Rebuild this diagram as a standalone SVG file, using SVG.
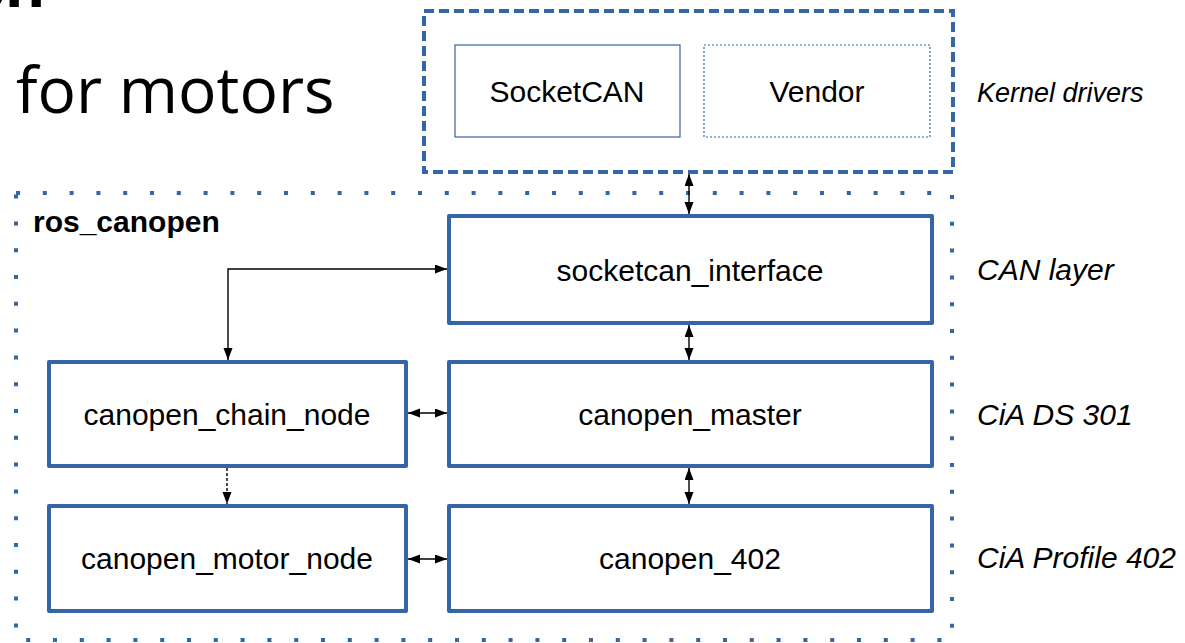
<svg xmlns="http://www.w3.org/2000/svg" width="1185" height="643" viewBox="0 0 1185 643">
  <defs>
    <style>
      .box { fill: #ffffff; stroke: #3465a4; stroke-width: 4; stroke-linejoin: round; }
      .thin { fill: #ffffff; stroke: #3465a4; stroke-width: 1.2; }
      .thin-dot { fill: #ffffff; stroke: #3465a4; stroke-width: 1.2; stroke-dasharray: 2 2; }
      .lbl { font-family: "Liberation Sans", Arial, sans-serif; font-size: 30px; fill: #000; text-anchor: middle; }
      .layer { font-family: "Liberation Sans", Arial, sans-serif; font-size: 30px; font-style: italic; fill: #000; }
      .conn { fill: none; stroke: #000; stroke-width: 1.4; }
    </style>
    <marker id="arrow" markerUnits="userSpaceOnUse" markerWidth="13" markerHeight="10" refX="12" refY="4.5" orient="auto-start-reverse">
      <path d="M0,0 L12,4.5 L0,9 z" fill="#000"/>
    </marker>
  </defs>

  <rect width="1185" height="643" fill="#ffffff"/>

  <!-- slide title fragments -->
  <text x="-26" y="7" font-family="'Open Sans', 'Noto Sans', sans-serif" font-size="62" font-weight="bold" fill="#000">sh</text>
  <text x="16" y="113" font-family="'Open Sans', 'Noto Sans', sans-serif" font-size="64" fill="#000">for motors</text>

  <!-- container frames -->
  <g id="ros_canopen">
    <rect x="16" y="193" width="936" height="447" fill="none" stroke="#3465a4" stroke-width="4" stroke-dasharray="4 22.8"/>
    <text x="33" y="232" font-family="'Liberation Sans', Arial, sans-serif" font-size="30" font-weight="bold" fill="#000">ros_canopen</text>
  </g>

  <g id="kernel_drivers">
    <rect x="424" y="11" width="529" height="161" fill="none" stroke="#3465a4" stroke-width="4" stroke-dasharray="10 5"/>
    <text class="layer" x="977" y="102" style="font-size:27px">Kernel drivers</text>
  </g>

  <g id="socketcan">
    <rect class="thin" x="455" y="45" width="225" height="92"/>
    <text class="lbl" x="567" y="102">SocketCAN</text>
  </g>

  <g id="vendor">
    <rect class="thin-dot" x="704" y="45" width="226" height="92"/>
    <text class="lbl" x="817" y="102">Vendor</text>
  </g>

  <g id="socketcan_interface">
    <rect class="box" x="449" y="216" width="483" height="107"/>
    <text class="lbl" x="690" y="281">socketcan_interface</text>
  </g>

  <g id="canopen_chain_node">
    <rect class="box" x="49" y="362" width="357" height="104"/>
    <text class="lbl" x="227" y="425">canopen_chain_node</text>
  </g>

  <g id="canopen_master">
    <rect class="box" x="449" y="362" width="483" height="104"/>
    <text class="lbl" x="690" y="425">canopen_master</text>
  </g>

  <g id="canopen_motor_node">
    <rect class="box" x="49" y="506" width="357" height="105"/>
    <text class="lbl" x="227" y="569">canopen_motor_node</text>
  </g>

  <g id="canopen_402">
    <rect class="box" x="449" y="506" width="483" height="105"/>
    <text class="lbl" x="690" y="569">canopen_402</text>
  </g>

  <!-- layer captions -->
  <g id="layer_labels">
    <text class="layer" x="977" y="280">CAN layer</text>
    <text class="layer" x="977" y="425">CiA DS 301</text>
    <text class="layer" x="977" y="568">CiA Profile 402</text>
  </g>

  <!-- connectors -->
  <g id="connectors">
    <line class="conn" x1="689" y1="174" x2="689" y2="214" marker-start="url(#arrow)" marker-end="url(#arrow)"/>
    <line class="conn" x1="689" y1="325" x2="689" y2="360" marker-start="url(#arrow)" marker-end="url(#arrow)"/>
    <line class="conn" x1="689" y1="468" x2="689" y2="504" marker-start="url(#arrow)" marker-end="url(#arrow)"/>
    <line class="conn" x1="408" y1="413" x2="447" y2="413" marker-start="url(#arrow)" marker-end="url(#arrow)"/>
    <line class="conn" x1="408" y1="559" x2="447" y2="559" marker-start="url(#arrow)" marker-end="url(#arrow)"/>
    <path class="conn" d="M228,360 L228,269 L447,269" marker-start="url(#arrow)" marker-end="url(#arrow)"/>
    <line class="conn" x1="227" y1="468" x2="227" y2="504" stroke-dasharray="3 2" marker-end="url(#arrow)"/>
  </g>
</svg>
